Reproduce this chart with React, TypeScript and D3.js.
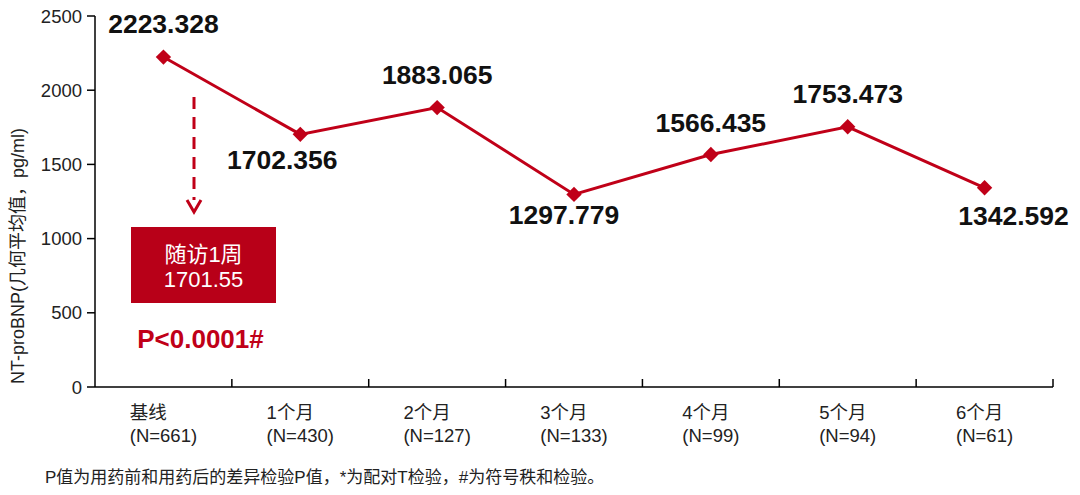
import React, { useEffect, useRef } from "react";
import * as d3 from "d3";

const categories = ["基线", "1个月", "2个月", "3个月", "4个月", "5个月", "6个月"];
const sampleSizes = ["(N=661)", "(N=430)", "(N=127)", "(N=133)", "(N=99)", "(N=94)", "(N=61)"];
const values = [2223.328, 1702.356, 1883.065, 1297.779, 1566.435, 1753.473, 1342.592];
const valueLabels = ["2223.328", "1702.356", "1883.065", "1297.779", "1566.435", "1753.473", "1342.592"];
const yTicks = [0, 500, 1000, 1500, 2000, 2500];
// label placement offsets (dx, dy) relative to each point
const labelOffsets: [number, number][] = [
  [0, -24], [-18, 35], [0, -24], [-10, 30], [0, -23], [0, -24], [29, 37],
];
const boxTitle = "随访1周";
const boxValue = "1701.55";
const pText = "P<0.0001#";
const yTitle = "NT-proBNP(几何平均值，pg/ml)";
const footnote = "P值为用药前和用药后的差异检验P值，*为配对T检验，#为符号秩和检验。";

const RED = "#c00018";
const BOX = "#b80018";
const FONT = "'Liberation Sans', Arial, 'Noto Sans CJK SC', sans-serif";

export default function App() {
  const ref = useRef<SVGSVGElement | null>(null);

  useEffect(() => {
    const svg = d3.select(ref.current);
    svg.selectAll("*").remove();
    const W = 1080, H = 495;
    const left = 95, right = 1053, top = 16, bottom = 387;
    const x = d3.scaleBand<string>().domain(categories).range([left, right]).padding(0);
    const y = d3.scaleLinear().domain([0, 2500]).range([bottom, top]);
    const cx = (i: number) => (x(categories[i]) as number) + x.bandwidth() / 2;

    svg.attr("width", W).attr("height", H).style("font-family", FONT);

    // y axis
    const g = svg.append("g");
    g.append("line").attr("x1", left).attr("x2", left).attr("y1", top).attr("y2", bottom)
      .attr("stroke", "#000").attr("stroke-width", 1.5);
    yTicks.forEach((t) => {
      g.append("line").attr("x1", left - 8).attr("x2", left).attr("y1", y(t)).attr("y2", y(t))
        .attr("stroke", "#000").attr("stroke-width", 1.5);
      g.append("text").attr("x", left - 13).attr("y", y(t) + 6.5).attr("text-anchor", "end")
        .attr("font-size", 18.5).attr("fill", "#222").text(String(t));
    });
    // x axis
    g.append("line").attr("x1", left).attr("x2", right).attr("y1", bottom).attr("y2", bottom)
      .attr("stroke", "#000").attr("stroke-width", 1.5);
    categories.forEach((c, i) => {
      const xr = (x(c) as number) + x.bandwidth();
      g.append("line").attr("x1", xr).attr("x2", xr).attr("y1", bottom - 8).attr("y2", bottom)
        .attr("stroke", "#000").attr("stroke-width", 1.5);
      const t2 = g.append("text").attr("x", cx(i)).attr("y", 442).attr("text-anchor", "middle")
        .attr("font-size", 18.5).attr("fill", "#222").text(sampleSizes[i]);
      const w = (t2.node() as SVGTextElement).getComputedTextLength();
      g.append("text").attr("x", cx(i) - w / 2).attr("y", 419).attr("text-anchor", "start")
        .attr("font-size", 18.5).attr("fill", "#222").text(c);
    });

    // y title
    svg.append("text").attr("transform", `translate(24,256) rotate(-90)`)
      .attr("text-anchor", "middle").attr("font-size", 18).attr("fill", "#222").text(yTitle);

    // line
    const line = d3.line<number>().x((_, i) => cx(i)).y((d) => y(d));
    svg.append("path").datum(values).attr("d", line).attr("fill", "none")
      .attr("stroke", RED).attr("stroke-width", 3);
    const diamond = d3.symbol().type(d3.symbolDiamond2).size(150);
    values.forEach((v, i) => {
      svg.append("path").attr("d", diamond()).attr("fill", RED)
        .attr("transform", `translate(${cx(i)},${y(v)})`);
    });
    values.forEach((v, i) => {
      svg.append("text").attr("x", cx(i) + labelOffsets[i][0]).attr("y", y(v) + labelOffsets[i][1])
        .attr("text-anchor", "middle").attr("font-size", 26.5).attr("font-weight", "bold")
        .attr("fill", "#111").text(valueLabels[i]);
    });

    // dashed arrow
    const ax = 194;
    svg.append("line").attr("x1", ax).attr("x2", ax).attr("y1", 97).attr("y2", 200)
      .attr("stroke", RED).attr("stroke-width", 3).attr("stroke-dasharray", "12 8");
    svg.append("path").attr("d", `M${ax - 7},${200} L${ax},${212} L${ax + 7},${200}`)
      .attr("fill", "none").attr("stroke", RED).attr("stroke-width", 3);

    // box
    svg.append("rect").attr("x", 131).attr("y", 227).attr("width", 145).attr("height", 76).attr("fill", BOX);
    svg.append("text").attr("x", 203.5).attr("y", 262).attr("text-anchor", "middle")
      .attr("font-size", 22).attr("fill", "#fff").text(boxTitle);
    svg.append("text").attr("x", 203.5).attr("y", 287).attr("text-anchor", "middle")
      .attr("font-size", 22).attr("fill", "#fff").text(boxValue);
    svg.append("text").attr("x", 200.5).attr("y", 348).attr("text-anchor", "middle")
      .attr("font-size", 26).attr("font-weight", "bold").attr("fill", RED).text(pText);

    // footnote
    svg.append("text").attr("x", 45).attr("y", 483).attr("font-size", 17).attr("fill", "#222").text(footnote);
  }, []);

  return <svg ref={ref} style={{ position: "absolute", left: 0, top: 0, background: "#fff" }} />;
}
